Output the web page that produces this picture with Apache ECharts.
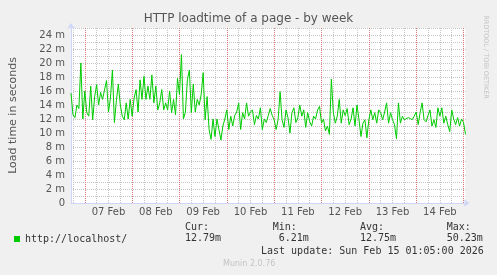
<!DOCTYPE html>
<html><head><meta charset="utf-8">
<script src="https://cdn.jsdelivr.net/npm/echarts@6/dist/echarts.min.js"></script>
<style>html,body{margin:0;padding:0;background:#F0F0F0;}#c{width:497px;height:275px;}</style>
</head><body><div id="c"></div>
<script>
const chartTitle = 'HTTP loadtime of a page - by week';
const yAxisTitle = 'Load time in seconds';
const seriesName = 'http://localhost/';
// hourly samples starting Feb 6, 17:00
const startDay = 6, startHourOfDay = 17;
const xTickLabels = ['07 Feb','08 Feb','09 Feb','10 Feb','11 Feb','12 Feb','13 Feb','14 Feb'];
const yMax = 25;
const loadTimeMs = [
 15.7,12.6,12.2,14.0,13.5,20.0,12.0,16.0,12.9,12.4,
 16.7,11.9,15.2,16.9,14.0,15.8,14.8,15.0,17.5,13.0,
 15.0,19.0,11.5,14.6,17.0,14.0,12.4,11.9,14.3,12.0,
 14.8,12.4,15.0,16.2,13.0,17.6,14.8,18.1,14.8,16.7,
 14.8,18.3,14.3,16.7,13.3,14.3,16.2,13.3,14.3,13.3,
 16.0,12.9,14.8,12.6,17.8,15.5,21.2,12.0,13.0,17.6,
 19.0,12.9,17.0,13.0,14.8,14.0,15.5,18.6,11.9,15.2,
 10.5,9.1,12.0,9.5,12.0,10.5,9.0,11.0,12.0,13.3,
 10.5,12.4,11.0,12.5,13.0,14.3,10.5,12.9,12.0,14.3,
 12.4,13.0,13.3,11.2,12.5,12.0,13.6,10.5,12.0,11.5,
 12.5,13.5,12.5,11.9,10.5,11.9,15.9,11.9,10.8,13.3,
 12.2,10.0,12.9,13.6,11.5,12.2,14.0,12.4,13.3,10.8,
 12.9,11.6,11.0,12.4,12.0,13.3,13.8,11.4,12.0,10.3,
 11.0,9.8,17.7,12.9,11.4,12.4,14.8,11.4,13.3,12.5,
 13.5,11.2,12.0,13.6,11.0,14.0,11.9,9.5,11.4,11.9,
 9.3,11.9,13.3,11.9,12.9,11.4,13.3,12.9,11.9,13.0,
 14.3,11.4,12.9,11.9,11.2,9.2,14.3,11.4,12.4,11.9,
 11.9,12.2,12.4,11.9,12.4,13.0,11.2,12.9,14.3,11.9,
 11.6,12.5,13.3,11.0,11.9,10.8,13.6,12.4,13.6,11.4,
 12.4,11.2,10.2,13.3,12.0,11.2,12.2,11.0,12.0,11.5,9.8
];
const statLabels = ['Cur:','Min:','Avg:','Max:'];
const statValues = ['12.79m','6.21m','12.75m','50.23m'];
const lastUpdate = 'Last update: Sun Feb 15 01:05:00 2026';
const footer = 'Munin 2.0.76';
const sideText = 'RRDTOOL / TOBI OETIKER';

const categories = loadTimeMs.map((v, i) => {
  const h = startHourOfDay + i;
  return (startDay + Math.floor(h / 24)) + '|' + (h % 24);
});
const parseCat = c => { const p = c.split('|'); return {day: +p[0], hour: +p[1]}; };

const GRID_MINOR = '#C6C6C6', GRID_MAJOR = '#E38C8C', VGRID_MAJOR = '#E07A7A', AXIS = '#CFD6F8';
const font = 'DejaVu Sans', mono = 'DejaVu Sans Mono';
const dotted = [1, 1];

const chart = echarts.init(document.getElementById('c'), null, {renderer: 'canvas'});
const statX = [185, 272.7, 360, 446.7];
const statValX = [185, 278.7, 360, 446.7];
const graphics = [];
statLabels.forEach((t, k) => graphics.push({type: 'text', left: statX[k], top: 222, style: {text: t, font: '10px ' + mono, fill: '#333'}}));
statValues.forEach((t, k) => graphics.push({type: 'text', left: statValX[k], top: 233.5, style: {text: t, font: '10px ' + mono, fill: '#333'}}));
graphics.push({type: 'text', left: 261, top: 246, style: {text: lastUpdate, font: '10px ' + mono, fill: '#333'}});
graphics.push({type: 'text', left: 223, top: 259.5, style: {text: footer, font: '8px ' + font, fill: '#C4C4C4'}});
graphics.push({type: 'text', x: 486, y: 57, rotation: -Math.PI / 2, style: {text: sideText, font: '6.5px ' + font, fill: '#C4C4C4', align: 'center', verticalAlign: 'middle'}});

// vertical grid: every 6 hours (grey), midnight (red)
const vGrid = [];
categories.forEach(c => {
  const h = parseCat(c).hour;
  if (h % 6 === 0) vGrid.push({xAxis: c, lineStyle: {color: h === 0 ? VGRID_MAJOR : GRID_MINOR, type: dotted, width: 1}});
});

const hiddenParts = {axisLine: {show: false}, axisTick: {show: false}, axisLabel: {show: false}};

chart.setOption({
  animation: false,
  backgroundColor: '#F0F0F0',
  title: {text: chartTitle, left: 'center', top: 12, padding: 0,
    textStyle: {fontFamily: font, fontSize: 12, fontWeight: 'normal', color: '#555', lineHeight: 14}},
  legend: {left: 14, top: 233, padding: 0, icon: 'rect', itemWidth: 6, itemHeight: 6, itemGap: 4,
    data: [seriesName], textStyle: {fontFamily: mono, fontSize: 10, color: '#333', lineHeight: 12}},
  grid: {left: 65.5, top: 28, width: 400, height: 175, show: true, backgroundColor: '#FFFFFF', borderWidth: 0},
  xAxis: {
    type: 'category', data: categories, boundaryGap: false, z: 3,
    axisLine: {lineStyle: {color: AXIS, width: 1}, symbol: ['none', 'arrow'], symbolSize: [6, 6], symbolOffset: [0, 4]},
    axisTick: {show: false},
    axisLabel: {
      interval: (i, v) => parseCat(v).hour === 12,
      formatter: v => { const c = parseCat(v); return xTickLabels[c.day - 7] || ''; },
      fontFamily: font, fontSize: 10, color: '#555', margin: 4
    },
    splitLine: {show: false}
  },
  yAxis: [{
    type: 'value', min: 0, max: yMax, interval: 1, z: 3,
    name: yAxisTitle, nameLocation: 'middle', nameGap: 52,
    nameTextStyle: {fontFamily: font, fontSize: 11, color: '#555'},
    axisLine: {show: true, lineStyle: {color: AXIS, width: 1}, symbol: ['none', 'arrow'], symbolSize: [6, 6], symbolOffset: [0, 5]},
    axisTick: {show: false},
    axisLabel: {formatter: v => v === 0 ? '0' : (v % 2 === 0 ? v + ' m' : ''), fontFamily: font, fontSize: 10, color: '#555', margin: 6},
    splitLine: {show: true, lineStyle: {color: GRID_MINOR, type: dotted, width: 1}}
  }, Object.assign({
    type: 'value', min: 0, max: yMax, interval: 2, position: 'left', z: 1,
    splitLine: {show: true, showMinLine: true, showMaxLine: false, lineStyle: {color: GRID_MAJOR, type: dotted, width: 1}}
  }, hiddenParts)],
  series: [{
    name: 'grid', type: 'line', data: loadTimeMs, showSymbol: false, symbol: 'none', silent: true,
    lineStyle: {opacity: 0}, z: 1,
    markLine: {silent: true, symbol: 'none', label: {show: false}, animation: false, data: vGrid}
  }, {
    name: seriesName, type: 'line', data: loadTimeMs, showSymbol: false, symbol: 'none',
    color: '#00CC00', lineStyle: {color: '#00CC00', width: 1}, z: 5
  }],
  graphic: graphics
});
</script></body></html>
